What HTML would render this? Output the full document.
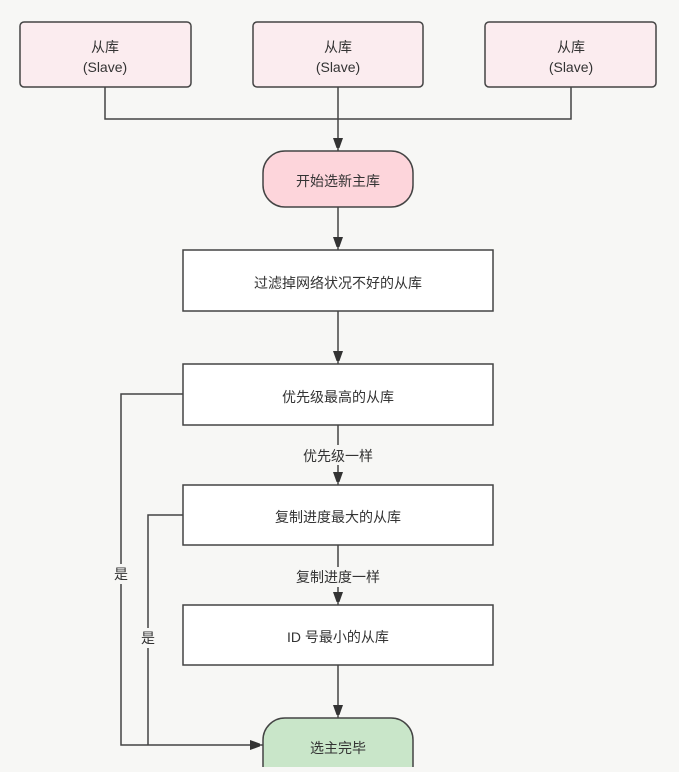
<!DOCTYPE html>
<html><head><meta charset="utf-8"><style>
body{margin:0;background:#f7f7f5;}
svg text{font-family:"Liberation Sans","Noto Sans CJK SC",sans-serif;font-size:14px;fill:#333;text-anchor:middle;}
</style></head><body>
<svg width="679" height="767" xmlns="http://www.w3.org/2000/svg">
<defs><marker id="a" markerWidth="10" markerHeight="10" refX="9" refY="5" orient="auto" markerUnits="userSpaceOnUse"><path d="M0,0 L10,5 L0,10 z" fill="#333"/></marker>
<marker id="b" markerWidth="10" markerHeight="14" refX="13" refY="5" orient="auto" markerUnits="userSpaceOnUse"><path d="M0,0 L14,5 L0,10 z" fill="#333"/></marker></defs>
<g stroke="#444" stroke-width="1.5" fill="#fbecef">
<rect x="20" y="22" width="171" height="65" rx="4"/>
<rect x="253" y="22" width="170" height="65" rx="4"/>
<rect x="485" y="22" width="171" height="65" rx="4"/>
</g>
<g stroke="#444" stroke-width="1.5" fill="none">
<path d="M105,87 V119 H571 V87"/>
<path d="M338,87 V151" marker-end="url(#b)"/>
<path d="M338,207 V250" marker-end="url(#b)"/>
<path d="M338,311 V364" marker-end="url(#b)"/>
<path d="M338,425 V485" marker-end="url(#b)"/>
<path d="M338,545 V605" marker-end="url(#b)"/>
<path d="M338,665 V718" marker-end="url(#b)"/>
<path d="M183,394 H121 V745 H263" marker-end="url(#b)"/>
<path d="M183,515 H148 V745"/>
</g>
<rect x="263" y="151" width="150" height="56" rx="22" fill="#fdd5db" stroke="#444" stroke-width="1.5"/>
<rect x="263" y="718" width="150" height="70" rx="22" fill="#c9e6c9" stroke="#444" stroke-width="1.5"/>
<g fill="#fff" stroke="#444" stroke-width="1.5">
<rect x="183" y="250" width="310" height="61"/>
<rect x="183" y="364" width="310" height="61"/>
<rect x="183" y="485" width="310" height="60"/>
<rect x="183" y="605" width="310" height="60"/>
</g>
<g fill="#f7f7f5"><rect x="297" y="445" width="82" height="20"/><rect x="290" y="567" width="96" height="20"/><rect x="111" y="564" width="20" height="20"/><rect x="138" y="628" width="20" height="20"/></g>
<text x="105" y="52">从库</text><text x="105" y="72">(Slave)</text>
<text x="338" y="52">从库</text><text x="338" y="72">(Slave)</text>
<text x="571" y="52">从库</text><text x="571" y="72">(Slave)</text>
<text x="338" y="186">开始选新主库</text>
<text x="338" y="288">过滤掉网络状况不好的从库</text>
<text x="338" y="402">优先级最高的从库</text>
<text x="338" y="461">优先级一样</text>
<text x="338" y="522">复制进度最大的从库</text>
<text x="338" y="582">复制进度一样</text>
<text x="338" y="642">ID 号最小的从库</text>
<text x="338" y="753">选主完毕</text>
<text x="121" y="579">是</text>
<text x="148" y="643">是</text>
</svg>
</body></html>
